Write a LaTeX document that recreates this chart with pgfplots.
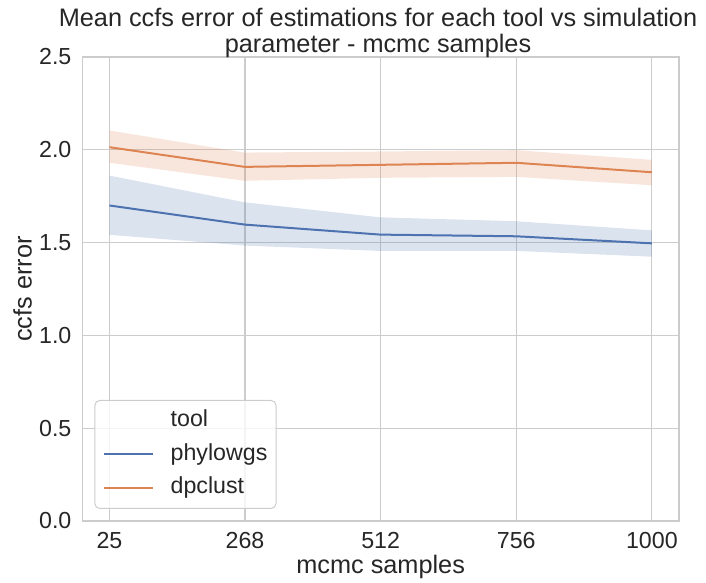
\documentclass[border=0pt]{standalone}
\usepackage{fontspec}
\setmainfont{Liberation Sans}
\usepackage{pgfplots}
\pgfplotsset{compat=1.18}
\usepackage{pgfplotstable}
\usepgfplotslibrary{fillbetween}

\definecolor{sbblue}{HTML}{4C72B0}
\definecolor{sborange}{HTML}{DD8452}
\definecolor{gridgray}{HTML}{CCCCCC}
\definecolor{textgray}{HTML}{262626}

% mean ccfs error and its confidence band for each tool
\pgfplotstableread{
x     pm     plo    phi    dm     dlo    dhi
25    1.700  1.542  1.861  2.014  1.930  2.104
268   1.597  1.484  1.717  1.908  1.833  1.985
512   1.543  1.455  1.636  1.919  1.849  1.991
756   1.534  1.455  1.615  1.930  1.854  1.998
1000  1.496  1.424  1.566  1.879  1.809  1.946
}\errtable

\newcommand{\tickfont}{\fontsize{23.2bp}{27bp}\selectfont}
\newcommand{\labelfont}{\fontsize{25.3bp}{30bp}\selectfont}

\begin{document}
\begin{tikzpicture}
% page frame
\path (0,0) rectangle (706bp,583bp);
\begin{axis}[
  at={(82.3bp,62bp)}, anchor=south west,
  scale only axis, width=596.7bp, height=464bp,
  xmin=-23.75, xmax=1048.75, ymin=0, ymax=2.5,
  xtick={25,268.75,512.5,756.25,1000},
  xticklabels={25,268,512,756,1000},
  ytick={0,0.5,1,1.5,2,2.5},
  yticklabels={0.0,0.5,1.0,1.5,2.0,2.5},
  major tick length=0pt,
  tick style={draw=none},
  grid=major,
  major grid style={gridgray, line width=1.1bp},
  axis line style={gridgray, line width=1.5bp},
  ticklabel style={font=\tickfont, text=textgray},
  xticklabel style={anchor=base, inner sep=0pt, yshift=-27.5bp},
  yticklabel style={anchor=east, inner sep=0pt, xshift=-10.7bp},
  xlabel={mcmc samples},
  ylabel={ccfs error},
  xlabel style={at={(axis description cs:0.5,-0.1131)}, anchor=base, font=\labelfont, text=textgray},
  ylabel style={at={(axis description cs:-0.0848,0.5)}, anchor=base, font=\labelfont, text=textgray},
  legend style={at={(axis description cs:0.0201,0.0259)}, anchor=south west,
    draw=gridgray, line width=1bp, rounded corners=5bp,
    fill=white, fill opacity=0.8, text opacity=1,
    inner xsep=8.6bp, inner ysep=9.5bp,
    font=\tickfont, text=textgray,
    nodes={inner sep=0pt, text height=17bp, text depth=5bp, anchor=west},
    row sep=11.5bp, column sep=17bp},
  legend cell align=left,
  legend image code/.code={\draw[#1, line width=2bp, sharp corners] (0bp,0bp) -- (48.3bp,0bp);},
]
% heading row of the legend, with an invisible line sample
\addlegendimage{draw opacity=0}
\addlegendentry{tool}

% confidence bands
\addplot[draw=none, name path=phi, forget plot] table[x=x, y=phi]{\errtable};
\addplot[draw=none, name path=plo, forget plot] table[x=x, y=plo]{\errtable};
\addplot[fill=sbblue, fill opacity=0.2, draw=none, forget plot] fill between[of=phi and plo];
\addplot[draw=none, name path=dhi, forget plot] table[x=x, y=dhi]{\errtable};
\addplot[draw=none, name path=dlo, forget plot] table[x=x, y=dlo]{\errtable};
\addplot[fill=sborange, fill opacity=0.2, draw=none, forget plot] fill between[of=dhi and dlo];

% mean lines
\addplot[sbblue, line width=2bp] table[x=x, y=pm]{\errtable};
\addlegendentry{phylowgs}
\addplot[sborange, line width=2bp] table[x=x, y=dm]{\errtable};
\addlegendentry{dpclust}
\end{axis}

\node[anchor=base, text=textgray, font=\labelfont, inner sep=0pt] at (378bp,556.3bp)
  {Mean ccfs error of estimations for each tool vs simulation};
\node[anchor=base, text=textgray, font=\labelfont, inner sep=0pt] at (378bp,530bp)
  {parameter - mcmc samples};
\end{tikzpicture}
\end{document}
